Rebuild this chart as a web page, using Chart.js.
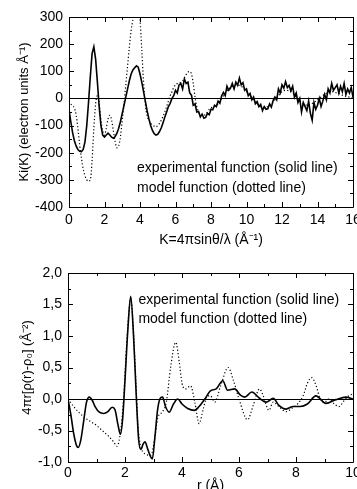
<!DOCTYPE html>
<html>
<head>
<meta charset="utf-8">
<script src="https://cdn.jsdelivr.net/npm/chart.js@4/dist/chart.umd.min.js"></script>
<style>
    html, body { margin: 0; padding: 0; background: #fff; overflow: hidden; }
    #caja { position: relative; width: 357px; height: 489px; }
    canvas { position: absolute; left: 0; display: block; }
    #graficoKi { top: 0; }
    #graficoG { top: 250px; }
</style>
</head>
<body>
<div id="caja">
    <canvas id="graficoKi" width="357" height="250"></canvas>
    <canvas id="graficoG" width="357" height="250"></canvas>
</div>
<script>
// --- datos grafico superior: Ki(K) ---
// funcion experimental, muestreada cada 0.1 desde K=0 hasta K=16
const kiExp = [
    -40, -85, -125, -155, -175, -188, -195, -196, -188, -160,
    -100, -15, 80, 165, 190, 145, 60, -30, -100, -135,
    -142, -135, -128, -135, -143, -147, -140, -128, -110, -85,
    -55, -25, 5, 35, 65, 90, 105, 113, 120, 115,
    90, 60, 25, -10, -45, -75, -100, -118, -130, -135,
    -132, -122, -108, -90, -68, -50, -30, -18, 0, 10,
    30, 20, 50, 55, 35, 72, 55, 60, 20, 12,
    -25, -20, -50, -48, -68, -58, -73, -70, -55, -60,
    -40, -42, -25, -30, -10, -18, 10, 22, 10, 45,
    30, 38, 55, 35, 60, 48, 75, 50, 58, 30,
    35, 10, 18, -5, 5, -20, -12, -30, -22, -45,
    -30, -40, -38, -20, -32, -8, 5, -5, 35, 20,
    50, 38, 62, 40, 48, 28, 45, 5, 20, -15,
    0, -50, -15, -30, -45, -10, -55, -80, -15, -40,
    -25, 0, -30, -10, 15, -5, 35, 20, 55, 30,
    40, 50, 20, 45, 25, 55, 15, 35, 20, 40,
    5
];
const kExp = kiExp.map((v, i) => i / 10);

// funcion modelo
const kMod = [
    0, 0.1, 0.2, 0.3, 0.4, 0.5, 0.6, 0.7, 0.8, 0.9,
    1.0, 1.1, 1.2, 1.3, 1.4, 1.5, 1.6, 1.7, 1.8, 1.9,
    2.0, 2.1, 2.2, 2.3, 2.4, 2.5, 2.6, 2.7, 2.8, 2.9,
    3.0, 3.1, 3.2, 3.3, 3.4, 3.5, 3.6, 3.7, 3.8, 3.9,
    4.0, 4.1, 4.2, 4.3, 4.4, 4.5, 4.6, 4.7, 4.8, 4.9,
    5.0, 5.1, 5.2, 5.3, 5.4, 5.5, 5.6, 5.7, 5.8, 5.9,
    6.0, 6.1, 6.2, 6.3, 6.4, 6.5, 6.6, 6.7, 6.8, 6.9,
    7.0, 7.1, 7.2, 7.3, 7.4, 7.5, 7.6, 7.7, 7.8, 7.9,
    8.0, 8.2, 8.4, 8.6, 8.8, 9.0, 9.2, 9.4, 9.6, 9.8,
    10.0, 10.2, 10.4, 10.6, 10.8, 11.0, 11.2, 11.4, 11.6, 11.8,
    12.0, 12.2, 12.4, 12.6, 12.8, 13.0, 13.2, 13.4, 13.6, 13.8,
    14.0, 14.2, 14.4, 14.6, 14.8, 15.0, 15.2, 15.4, 15.6, 15.8,
    16.0
];
const kiMod = [
    -10, -20, -28, -35, -60, -110, -170, -220, -260, -285,
    -300, -305, -300, -230, -110, -20, 10, -20, -80, -120,
    -135, -110, -75, -62, -80, -120, -160, -182, -175, -140,
    -80, -20, 50, 120, 190, 250, 290, 320, 335, 330,
    290, 180, 60, -20, -65, -80, -90, -98, -102, -105,
    -100, -92, -80, -65, -50, -30, -10, 10, 25, 40,
    50, 55, 58, 60, 65, 75, 88, 97, 99, 90,
    55, 5, -30, -50, -60, -62, -62, -58, -50, -40,
    -35, -30, -20, 0, 20, 35, 45, 50, 48, 40,
    25, 10, -5, -20, -30, -33, -30, -20, -5, 10,
    25, 30, 28, 20, 5, -10, -20, -25, -22, -15,
    -5, 5, 15, 22, 25, 22, 18, 12, 8, 5,
    2
];

// --- datos grafico inferior: 4πr[ρ(r)-ρ0] ---
const rExp = [
    0, 0.1, 0.2, 0.3, 0.36, 0.45, 0.55, 0.65, 0.75, 0.85,
    0.95, 1.1, 1.25, 1.4, 1.55, 1.65, 1.75, 1.84, 1.92, 2.0,
    2.1, 2.2, 2.3, 2.4, 2.48, 2.56, 2.63, 2.7, 2.8, 2.9,
    2.96, 3.05, 3.15, 3.25, 3.32, 3.42, 3.55, 3.7, 3.85, 4.0,
    4.2, 4.43, 4.6, 4.8, 5.0, 5.2, 5.43, 5.6, 5.85, 6.05,
    6.2, 6.45, 6.7, 6.95, 7.2, 7.4, 7.65, 7.9, 8.15, 8.4,
    8.7, 9.05, 9.4, 9.75, 10.0
];
const gExp = [
    0, -0.25, -0.55, -0.74, -0.77, -0.65, -0.35, -0.05, 0.03, -0.02,
    -0.12, -0.21, -0.23, -0.2, -0.13, -0.17, -0.4, -0.56, -0.3, 0.3,
    1.1, 1.63, 1.0, 0.0, -0.65, -0.8, -0.72, -0.68, -0.8, -0.92,
    -0.95, -0.6, -0.15, 0.02, 0.03, -0.12, -0.21, -0.08, 0.0, -0.08,
    -0.15, -0.18, -0.12, 0.0, 0.13, 0.16, 0.29, 0.14, 0.16, 0.06,
    0.03, 0.11, 0.02, -0.05, 0.01, -0.1, -0.16, -0.12, -0.12, -0.08,
    0.05, -0.07, -0.01, 0.03, 0.0
];
const rMod = [
    0, 0.2, 0.4, 0.6, 0.8, 1.0, 1.2, 1.4, 1.6, 1.72,
    1.85, 1.95, 2.05, 2.15, 2.2, 2.28, 2.38, 2.45, 2.55, 2.65,
    2.75, 2.85, 2.95, 3.05, 3.15, 3.3, 3.45, 3.6, 3.78, 3.9,
    4.0, 4.13, 4.3, 4.45, 4.6, 4.75, 4.9, 5.0, 5.15, 5.35,
    5.62, 5.8, 6.0, 6.3, 6.5, 6.72, 6.85, 7.05, 7.2, 7.4,
    7.65, 7.85, 8.05, 8.25, 8.4, 8.55, 8.7, 8.85, 9.0, 9.15,
    9.35, 9.5, 9.7, 9.85, 10.0
];
const gMod = [
    0, -0.12, -0.22, -0.3, -0.36, -0.42, -0.5, -0.58, -0.68, -0.75,
    -0.5, 0.0, 0.8, 1.45, 1.6, 1.2, 0.3, -0.4, -0.75, -0.85,
    -0.88, -0.9, -0.85, -0.6, -0.3, -0.21, -0.05, 0.5, 0.9, 0.6,
    0.25, 0.16, 0.21, -0.05, -0.39, -0.15, 0.05, 0.05, -0.05, 0.2,
    0.5, 0.3, 0.0, -0.33, -0.1, 0.16, 0.05, -0.18, -0.05, -0.12,
    -0.2, -0.15, -0.08, 0.05, 0.25, 0.34, 0.22, 0.0, -0.05, 0.0,
    -0.08, -0.12, -0.02, 0.05, 0.08
];

const textosKi = ["experimental function (solid line)", "model function (dotted line)"];
const textosG = ["experimental function (solid line)", "model function (dotted line)"];

const fuente = '"Liberation Sans", Arial, Helvetica, sans-serif';
Chart.defaults.font.family = fuente;
Chart.defaults.font.size = 14;
Chart.defaults.color = '#000';

function pares(xs, ys){
    return ys.map((v, i) => ({ x: xs[i], y: v }));
}

// marco, ticks hacia adentro, linea del cero y leyenda escrita
const marcoPlugin = {
    id: 'marco',
    afterDraw(chart, args, opts){
        const ctx = chart.ctx;
        const a = chart.chartArea;
        const sx = chart.scales.x;
        const sy = chart.scales.y;
        ctx.save();
        ctx.strokeStyle = '#000';
        ctx.lineWidth = 1;
        ctx.beginPath();
        ctx.rect(Math.round(a.left) + 0.5, Math.round(a.top) + 0.5,
                 Math.round(a.right - a.left), Math.round(a.bottom - a.top));
        const y0 = Math.round(sy.getPixelForValue(0)) + 0.5;
        ctx.moveTo(a.left, y0);
        ctx.lineTo(a.right, y0);
        const esMayor = (v, paso) => Math.abs(v / paso - Math.round(v / paso)) < 1e-6;
        for (let v = sx.min; v <= sx.max + 1e-9; v += opts.xMenor) {
            const px = Math.round(sx.getPixelForValue(v)) + 0.5;
            const l = esMayor(v, opts.xMayor) ? 5 : 3;
            ctx.moveTo(px, a.bottom); ctx.lineTo(px, a.bottom - l);
            ctx.moveTo(px, a.top); ctx.lineTo(px, a.top + l);
        }
        for (let v = sy.min; v <= sy.max + 1e-9; v += opts.yMenor) {
            const py = Math.round(sy.getPixelForValue(v)) + 0.5;
            const l = esMayor(v, opts.yMayor) ? 5 : 3;
            ctx.moveTo(a.left, py); ctx.lineTo(a.left + l, py);
            ctx.moveTo(a.right, py); ctx.lineTo(a.right - l, py);
        }
        ctx.stroke();
        ctx.fillStyle = '#000';
        ctx.font = '14px ' + fuente;
        ctx.textBaseline = 'middle';
        ctx.textAlign = 'left';
        opts.textos.forEach(function(t){
            ctx.fillText(t.texto, sx.getPixelForValue(t.x), sy.getPixelForValue(t.y));
        });
        ctx.restore();
    }
};

function crearGrafico(id, cfg){
    const ctx = document.getElementById(id);
    new Chart(ctx, {
        type: 'line',
        plugins: [marcoPlugin],
        data: {
            datasets: [
                {
                    data: cfg.experimental,
                    borderColor: '#000',
                    borderWidth: 1.6,
                    pointRadius: 0,
                    tension: 0,
                    cubicInterpolationMode: cfg.suave ? 'monotone' : 'default'
                },
                {
                    data: cfg.modelo,
                    borderColor: '#000',
                    borderWidth: 1.2,
                    borderDash: [1.2, 2.2],
                    pointRadius: 0,
                    cubicInterpolationMode: 'monotone'
                }
            ]
        },
        options: {
            responsive: false,
            animation: false,
            events: [],
            layout: { padding: { top: cfg.arriba, right: 4, left: 0, bottom: 0 } },
            plugins: {
                legend: { display: false },
                tooltip: { enabled: false },
                marco: cfg.marco
            },
            scales: {
                x: {
                    type: 'linear',
                    min: cfg.xMin, max: cfg.xMax,
                    grid: { display: false, drawTicks: false },
                    border: { display: false },
                    ticks: { stepSize: cfg.xPaso, padding: cfg.xPad, maxRotation: 0, autoSkip: false },
                    title: { display: true, text: cfg.xTitulo, font: { size: 14 }, padding: { top: 0, bottom: cfg.xTitPad } },
                    afterFit: function(s){ s.height = cfg.altoX; s.paddingLeft = 0; s.paddingRight = 0; }
                },
                y: {
                    type: 'linear',
                    min: cfg.yMin, max: cfg.yMax,
                    grid: { display: false, drawTicks: false },
                    border: { display: false },
                    ticks: { stepSize: cfg.yPaso, padding: 6, callback: cfg.yFormato },
                    title: { display: true, text: cfg.yTitulo, font: { size: 13 }, padding: { top: cfg.yTitPad, bottom: 0 } },
                    afterFit: function(s){ s.width = cfg.anchoY; s.paddingTop = 0; s.paddingBottom = 0; }
                }
            }
        }
    });
}

crearGrafico('graficoKi', {
    experimental: pares(kExp, kiExp),
    modelo: pares(kMod, kiMod),
    suave: false,
    arriba: 17,
    xMin: 0, xMax: 16, xPaso: 2, xPad: 5,
    yMin: -400, yMax: 300, yPaso: 100,
    xTitulo: 'K=4πsinθ/λ (Å⁻¹)', xTitPad: 1,
    yTitulo: 'Ki(K) (electron units Å⁻¹)', yTitPad: 17,
    altoX: 43, anchoY: 69,
    yFormato: function(v){ return v; },
    marco: {
        xMenor: 1, xMayor: 2, yMenor: 50, yMayor: 100,
        textos: [
            { texto: textosKi[0], x: 3.83, y: -255 },
            { texto: textosKi[1], x: 3.83, y: -330 }
        ]
    }
});

crearGrafico('graficoG', {
    experimental: pares(rExp, gExp),
    modelo: pares(rMod, gMod),
    suave: true,
    arriba: 23,
    xMin: 0, xMax: 10, xPaso: 2, xPad: 3,
    yMin: -1, yMax: 2, yPaso: 0.5,
    xTitulo: 'r (Å)', xTitPad: 5,
    yTitulo: '4πr[ρ(r)-ρ₀] (Å⁻²)', yTitPad: 20,
    altoX: 38, anchoY: 68,
    yFormato: function(v){ return v.toFixed(1).replace('.', ','); },
    marco: {
        xMenor: 1, xMayor: 2, yMenor: 0.25, yMayor: 0.5,
        textos: [
            { texto: textosG[0], x: 2.47, y: 1.57 },
            { texto: textosG[1], x: 2.47, y: 1.26 }
        ]
    }
});
</script>
</body>
</html>
